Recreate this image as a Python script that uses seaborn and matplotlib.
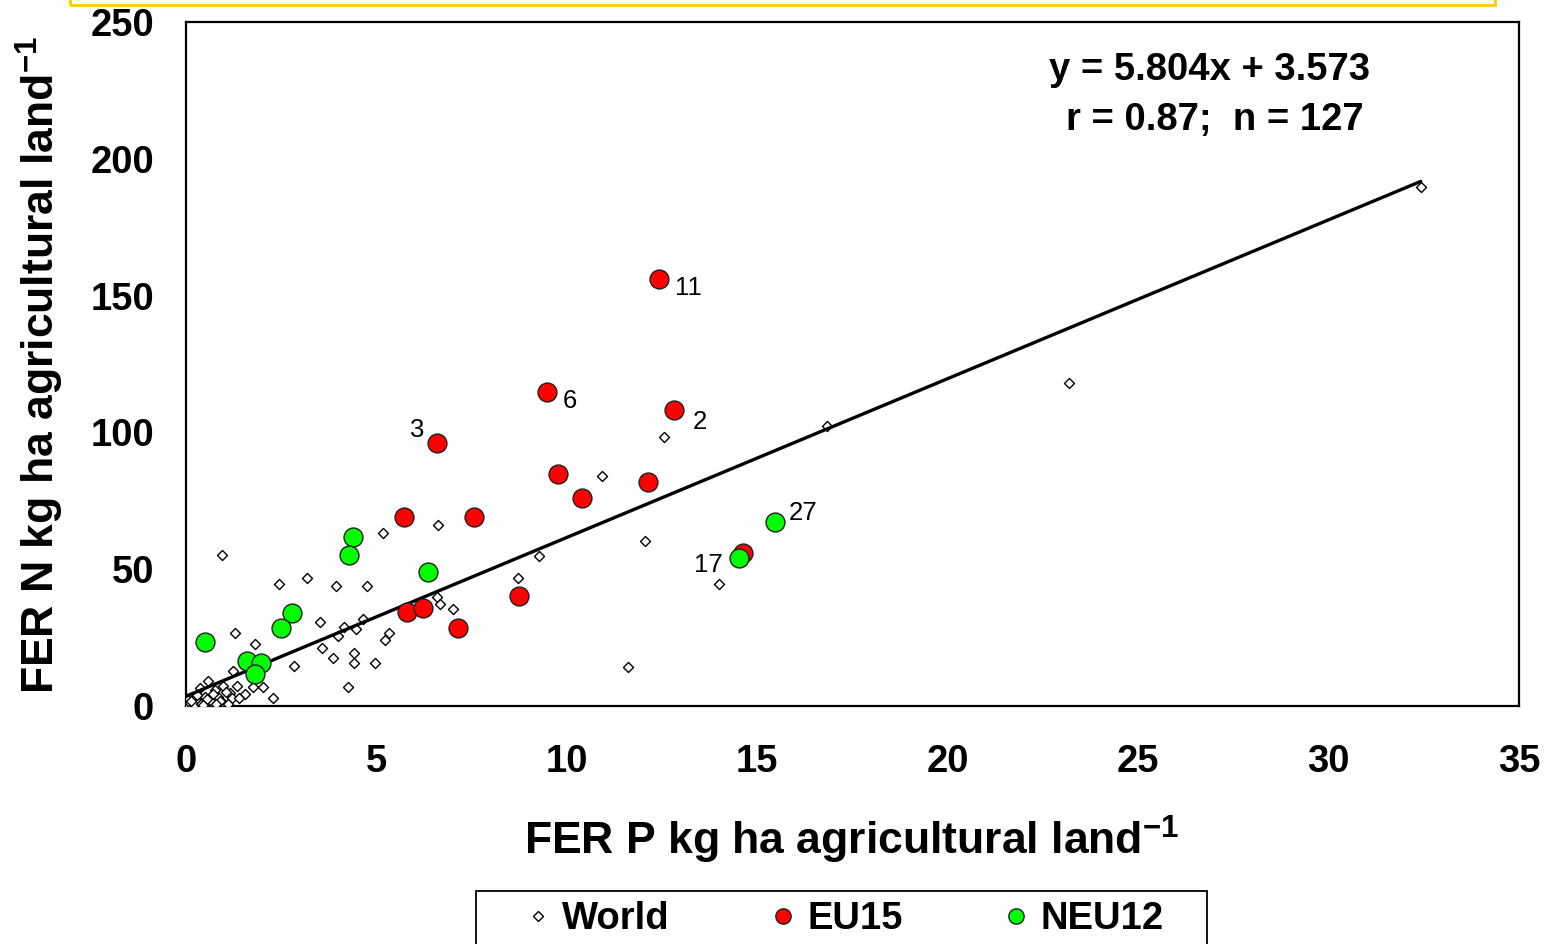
import numpy as np
import pandas as pd
import matplotlib
matplotlib.use("Agg")
import matplotlib.pyplot as plt
from matplotlib.lines import Line2D
from matplotlib.patches import Rectangle
import seaborn as sns

# ---------------- data ----------------
world_x = [32.42, 23.18, 16.83, 12.55, 10.92, 6.62, 5.17, 12.05, 9.26, 0.95,
           8.72, 14.00, 11.60, 3.17, 2.44, 3.94, 4.75, 1.29, 1.80, 3.52,
           4.14, 4.65, 4.46, 4.00, 6.58, 6.67, 7.02, 5.22, 5.34, 3.56,
           3.85, 4.40, 4.40, 4.96, 2.84, 4.25, 2.28, 2.03, 1.24, 1.55,
           0.59, 0.98, 1.33, 1.16, 0.85, 1.20, 0.76, 0.37, 0.50, 0.24,
           0.06, 0.02, 0.15, 0.32, 0.67, 0.94, 1.77, 0.10, 0.20, 0.40,
           0.55, 0.70, 0.30, 1.05, 1.40, 0.90, 0.12, 0.45, 0.80, 1.10]
world_y = [189.7, 118.1, 102.3, 98.3, 84.1, 66.3, 63.3, 60.4, 54.9, 55.2,
           46.7, 44.5, 14.3, 46.7, 44.5, 43.8, 43.8, 26.6, 22.5, 30.8,
           29.0, 31.7, 28.1, 25.7, 39.7, 37.2, 35.5, 24.1, 26.6, 21.3,
           17.7, 19.5, 15.8, 15.8, 14.7, 7.1, 2.8, 6.9, 12.9, 4.3,
           9.2, 7.3, 7.3, 4.6, 3.4, 2.8, 5.8, 6.5, 3.4, 2.8,
           2.2, 0.4, 0.3, 1.6, 1.6, 1.6, 7.1, 1.0, 0.5, 0.9,
           2.5, 4.4, 4.2, 5.0, 3.0, 2.0, 1.8, 0.3, 0.8, 0.9]

eu15_x = [12.43, 9.48, 12.81, 6.58, 9.78, 10.41, 12.12, 5.73, 7.55, 8.75,
          5.81, 6.21, 7.14, 14.62]
eu15_y = [156.0, 114.9, 108.2, 96.0, 84.7, 75.9, 81.8, 69.0, 69.0, 40.2,
          34.2, 35.9, 28.4, 55.8]

neu12_x = [4.39, 4.28, 6.36, 2.78, 2.49, 0.49, 1.61, 1.96, 1.81, 15.46, 14.51]
neu12_y = [61.7, 55.2, 49.1, 34.1, 28.4, 23.5, 16.6, 15.8, 11.8, 67.4, 54.0]

# point labels: (group, index in group, text)
point_labels = [("EU15", 0, "11"), ("EU15", 1, "6"), ("EU15", 2, "2"),
                ("EU15", 3, "3"), ("NEU12", 9, "27"), ("NEU12", 10, "17")]

slope, intercept = 5.804, 3.573
fit_x_range = [0.0, 32.42]
eq_text = "y = 5.804x + 3.573"
stat_text = "r = 0.87;  n = 127"

x_ticks = [0, 5, 10, 15, 20, 25, 30, 35]
y_ticks = [0, 50, 100, 150, 200, 250]

# ---------------- style ----------------
sns.set_theme(style="white")
plt.rcParams['font.family'] = ['Liberation Sans', 'DejaVu Sans']
plt.rcParams['mathtext.fontset'] = 'custom'
plt.rcParams['mathtext.rm'] = 'Liberation Sans'
plt.rcParams['mathtext.bf'] = 'Liberation Sans:bold'

fig = plt.figure(figsize=(15.5, 9.44), dpi=100)
fig.patch.set_facecolor('white')
ax = fig.add_axes([186/1550, 1-706/944, (1519-186)/1550, (706-22)/944])
ax.set_facecolor('white')

world = pd.DataFrame({"x": world_x, "y": world_y})
eu = pd.DataFrame({"x": eu15_x, "y": eu15_y})
neu = pd.DataFrame({"x": neu12_x, "y": neu12_y})

sns.scatterplot(data=world, x="x", y="y", ax=ax, marker="D", s=26,
                facecolor="white", edgecolor="black", linewidth=1.0, zorder=3)
fit = pd.DataFrame({"x": fit_x_range,
                    "y": [slope * v + intercept for v in fit_x_range]})
sns.lineplot(data=fit, x="x", y="y", ax=ax, color="black", linewidth=2.4, zorder=4)
sns.scatterplot(data=eu, x="x", y="y", ax=ax, marker="o", s=185,
                color="#FF0000", edgecolor="#202020", linewidth=1.0, zorder=5)
sns.scatterplot(data=neu, x="x", y="y", ax=ax, marker="o", s=185,
                color="#00FF00", edgecolor="#202020", linewidth=1.0, zorder=6)

offsets = {"11": (21, -6.5), "6": (16.5, -6.5), "2": (18.5, -8.5),
           "3": (-14, 9.5), "27": (20, 6.5), "17": (-22, -5)}
groups = {"EU15": (eu15_x, eu15_y), "NEU12": (neu12_x, neu12_y)}
for g, i, t in point_labels:
    gx, gy = groups[g]
    ax.annotate(t, (gx[i], gy[i]), xytext=offsets[t], textcoords="offset points",
                ha="center", va="center", fontsize=18.5, color="black", zorder=7)

ax.set_xlim(0, 35)
ax.set_ylim(0, 250)
ax.set_xticks(x_ticks)
ax.set_yticks(y_ticks)
ax.set_xticklabels([str(v) for v in x_ticks], fontsize=27.5, fontweight='bold')
ax.set_yticklabels([str(v) for v in y_ticks], fontsize=27.5, fontweight='bold')
ax.tick_params(axis='both', which='major', direction='out', length=7, width=1.5,
               color='black', labelcolor='black')
ax.tick_params(axis='x', pad=20)
ax.tick_params(axis='y', pad=16)
for s in ax.spines.values():
    s.set_visible(True)
    s.set_color('black')
    s.set_linewidth(1.6)

ax.set_xlabel(r"FER P kg ha agricultural land$^{\mathbf{-1}}$", fontsize=32,
              fontweight='bold', color='black')
ax.set_ylabel(r"FER N kg ha agricultural land$^{\mathbf{-1}}$", fontsize=32,
              fontweight='bold', color='black')
ax.xaxis.set_label_coords(0.499, -0.158)
ax.yaxis.set_label_coords(-0.090, 0.4985)

ax.text(0.768, 0.930, eq_text, transform=ax.transAxes, ha='center', va='center',
        fontsize=27.5, fontweight='bold', color='black')
ax.text(0.772, 0.857, stat_text, transform=ax.transAxes, ha='center', va='center',
        fontsize=27.5, fontweight='bold', color='black')

handles = [
    Line2D([], [], marker='D', linestyle='none', markersize=5,
           markerfacecolor='white', markeredgecolor='black', markeredgewidth=1),
    Line2D([], [], marker='o', linestyle='none', markersize=11,
           markerfacecolor='#FF0000', markeredgecolor='#202020', markeredgewidth=1),
    Line2D([], [], marker='o', linestyle='none', markersize=11,
           markerfacecolor='#00FF00', markeredgecolor='#202020', markeredgewidth=1),
]
leg = fig.legend(handles, ["World", "EU15", "NEU12"], ncol=3,
                 loc='center', bbox_to_anchor=(843/1550, 1-919/944),
                 frameon=False,
                 prop={'size': 27.5, 'weight': 'bold'},
                 handlelength=0.8, handletextpad=0.25, columnspacing=2.55,
                 borderpad=0.0, borderaxespad=0)
for t in leg.get_texts():
    t.set_color('black')

# legend box (cut by the bottom edge, as in the reference)
fig.patches.append(Rectangle((476/1550, -0.05), (1207-476)/1550, 0.05 + 1-891/944,
                             transform=fig.transFigure, fill=False,
                             edgecolor='black', linewidth=1.3))

# partial yellow slide frame at the top
fig.patches.append(Rectangle((70/1550, 1-5/944), (1495-70)/1550, 0.05,
                             transform=fig.transFigure, fill=False,
                             edgecolor='#FFCC00', linewidth=2))

fig.savefig("out.png", dpi=100, facecolor='white')
